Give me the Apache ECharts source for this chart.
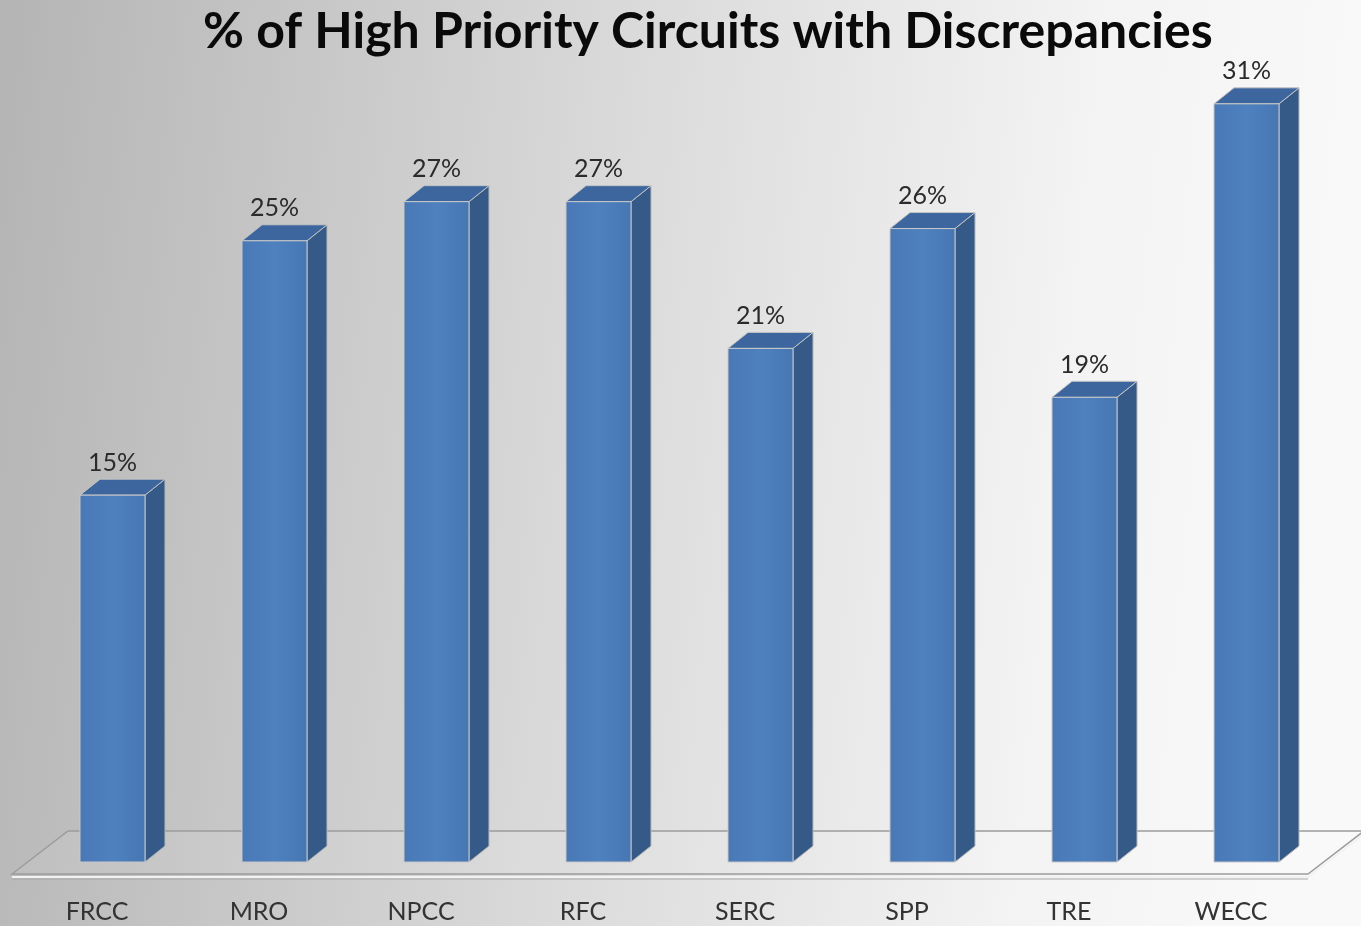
<!DOCTYPE html>
<html>
<head>
<meta charset="utf-8">
<script src="https://cdn.jsdelivr.net/npm/echarts@6/dist/echarts.min.js"></script>
<style>
  html, body { margin: 0; padding: 0; }
  #chart { width: 1361px; height: 926px; }
</style>
</head>
<body>
<div id="chart"></div>
<script>
const regions = ["FRCC", "MRO", "NPCC", "RFC", "SERC", "SPP", "TRE", "WECC"];
const discrepancyPct = [15.0, 25.4, 27.0, 27.0, 21.0, 25.9, 19.0, 31.0];

const chart = echarts.init(document.getElementById("chart"));

// 3d look: depth offset of the back faces
const DX = 20;
const DY = 16;
const BAR_W = 65;
const BAR_SHIFT = -17; // front face starts left of the category centre

function drawFloor(cs) {
  const x0 = cs.x;
  const x1 = cs.x + cs.width;
  const yb = cs.y + cs.height;
  const front = yb + 12;
  const back = yb - 31;
  return [
    {
      type: "polygon",
      shape: { points: [[x0 - 4, front], [x0 + 52, back], [x1 + 52, back], [x1 - 4, front]] },
      style: { fill: "rgba(255,255,255,0.08)", stroke: "#9c9c9c", lineWidth: 1.5 },
      z2: 0,
    },
    {
      type: "polyline",
      shape: { points: [[x0 - 4, front + 3], [x1 - 4, front + 3], [x1 + 52, back + 3]] },
      style: { fill: null, stroke: "#f2f2f2", lineWidth: 2 },
      z2: 0,
    },
    {
      type: "polyline",
      shape: { points: [[x0 - 4, front + 5], [x1 - 4, front + 5]] },
      style: { fill: null, stroke: "#a8a8a8", lineWidth: 1 },
      z2: 0,
    },
  ];
}

function renderBar(params, api) {
  const v = api.value(1);
  const base = api.coord([api.value(0), 0]);
  const top = api.coord([api.value(0), v]);
  const L = base[0] + BAR_SHIFT;
  const R = L + BAR_W;
  const yT = top[1];
  const yB = base[1];
  const children = [];
  if (params.dataIndex === 0) {
    children.push(...drawFloor(params.coordSys));
  }
  children.push(
    {
      type: "polygon",
      shape: { points: [[R, yT], [R + DX, yT - DY], [R + DX, yB - DY], [R, yB]] },
      style: { fill: "#365a88", stroke: "#b8b8b8", lineWidth: 1 },
      z2: 5,
    },
    {
      type: "polygon",
      shape: { points: [[L, yT], [L + DX, yT - DY], [R + DX, yT - DY], [R, yT]] },
      style: { fill: "#3c669d", stroke: "#c4c4c4", lineWidth: 1 },
      z2: 5,
    },
    {
      type: "rect",
      shape: { x: L, y: yT, width: BAR_W, height: yB - yT },
      style: {
        fill: new echarts.graphic.LinearGradient(0, 0, 1, 0, [
          { offset: 0, color: "#4978b5" },
          { offset: 0.5, color: "#4f81bf" },
          { offset: 1, color: "#4677b3" },
        ]),
        stroke: "#c8c8c8",
        lineWidth: 1,
      },
      z2: 6,
    },
    {
      type: "text",
      style: {
        text: Math.round(v) + "%",
        x: L + BAR_W / 2,
        y: yT - DY - 4,
        align: "center",
        verticalAlign: "bottom",
        font: "25px Lato, 'Noto Sans', sans-serif",
        fill: "#2b2b2b",
      },
      z2: 7,
    }
  );
  return { type: "group", children };
}

const option = {
  backgroundColor: new echarts.graphic.LinearGradient(0, 0, 1, 0.15, [
    { offset: 0, color: "#b4b4b4" },
    { offset: 0.45, color: "#d9d9d9" },
    { offset: 0.8, color: "#f3f3f3" },
    { offset: 1, color: "#f9f9f9" },
  ]),
  animation: false,
  title: {
    text: "% of High Priority Circuits with Discrepancies",
    left: 198,
    top: 2,
    textStyle: {
      fontFamily: "Lato, 'Noto Sans', sans-serif",
      fontWeight: "bold",
      fontSize: 50,
      color: "#0a0a0a",
    },
  },
  grid: { left: 16, right: 49, top: 6, bottom: 64 },
  xAxis: {
    type: "category",
    data: regions,
    axisLine: { show: false },
    axisTick: { show: false },
    axisLabel: {
      margin: 37,
      fontSize: 25,
      color: "#333",
      fontFamily: "Lato, 'Noto Sans', sans-serif",
    },
  },
  yAxis: {
    type: "value",
    min: 0,
    max: 35,
    show: false,
  },
  series: [
    {
      type: "custom",
      renderItem: renderBar,
      data: regions.map((r, i) => [i, discrepancyPct[i]]),
      encode: { x: 0, y: 1 },
      clip: false,
    },
  ],
};

chart.setOption(option);
</script>
</body>
</html>
